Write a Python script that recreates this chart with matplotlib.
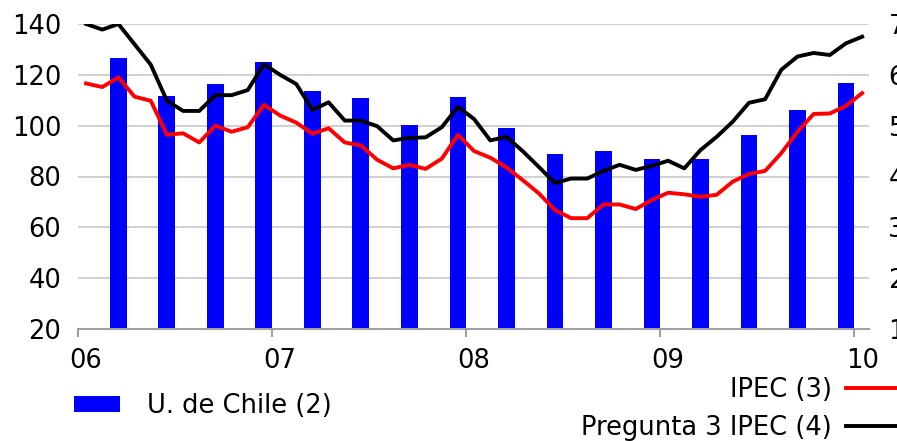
import numpy as np
import matplotlib
matplotlib.use("Agg")
import matplotlib.pyplot as plt

# Indice U. de Chile (eje izq.), trimestral
u_chile = [126.6, 111.7, 116.4, 125.0, 113.6, 110.9, 100.2, 111.3,
           99.1, 88.8, 90.0, 86.9, 86.9, 96.3, 106.1, 116.8]

# IPEC y Pregunta 3 IPEC (eje der.), mensual ene-06 .. ene-10
ipec = [58.3, 57.6, 59.5, 55.7, 54.9, 48.2, 48.5, 46.7, 50.0, 48.8, 49.7, 54.1,
        52.0, 50.6, 48.4, 49.5, 46.7, 46.1, 43.3, 41.6, 42.3, 41.5, 43.5, 48.2,
        45.0, 43.7, 41.8, 39.3, 36.7, 33.4, 31.8, 31.8, 34.5, 34.5, 33.6, 35.4,
        36.8, 36.5, 36.0, 36.4, 39.0, 40.5, 41.1, 44.6, 48.8, 52.3, 52.4, 53.9,
        56.4]
preg3 = [70.0, 68.9, 70.0, 66.0, 62.0, 54.9, 52.9, 52.9, 56.0, 56.0, 57.0, 62.1,
         60.0, 58.2, 53.1, 54.6, 51.0, 51.0, 49.9, 47.1, 47.6, 47.7, 49.7, 53.7,
         51.3, 47.1, 47.8, 45.0, 41.9, 38.7, 39.6, 39.6, 41.1, 42.3, 41.3, 42.1,
         43.1, 41.6, 45.2, 47.8, 50.8, 54.5, 55.2, 61.0, 63.6, 64.3, 63.9, 66.2,
         67.5]

years = ["06", "07", "08", "09", "10"]

x_month = (np.arange(len(ipec)) + 0.5) / 12
x_quarter = (np.arange(len(u_chile)) * 3 + 2.5) / 12

fig = plt.figure(figsize=(8.97, 4.41), dpi=100)
ax = fig.add_axes([78 / 897, 1 - 329 / 441, 791 / 897, 305 / 441])
ax2 = ax.twinx()

bars = ax.bar(x_quarter, u_chile, width=0.087, color="#0000ff", zorder=2)
ax.set_ylim(20, 140)
ax.set_yticks(range(20, 141, 20))
ax.set_xlim(0, 4.077)
ax.grid(axis="y", color="#c8c8c8", lw=1.2)
ax.set_axisbelow(True)

l1, = ax2.plot(x_month, ipec, color="#ff0000", lw=2.8)
l2, = ax2.plot(x_month, preg3, color="black", lw=2.8)
ax2.set_ylim(10, 70)
ax2.set_yticks(range(10, 71, 10))

for a in (ax, ax2):
    for s in ["top", "left", "right", "bottom"]:
        a.spines[s].set_visible(False)
ax.spines["bottom"].set_visible(True)
ax.spines["bottom"].set_color("#a0a0a0")
ax.spines["bottom"].set_linewidth(1.5)

ax.tick_params(axis="y", length=0, labelsize=18.5, pad=12)
ax2.tick_params(axis="y", length=0, labelsize=18.5, pad=14)

# ticks en el inicio de cada año, etiquetas centradas en enero
ax.set_xticks(range(5))
ax.set_xticklabels([])
ax.set_xticks(np.arange(5) + 0.5 / 12, minor=True)
ax.set_xticklabels(years, minor=True)
ax.tick_params(axis="x", which="major", length=6, width=1.5, color="#a0a0a0")
ax.tick_params(axis="x", which="minor", length=0, labelsize=18.5, pad=14)

fig.legend([bars], ["U. de Chile (2)"], loc="center left",
           bbox_to_anchor=(74 / 897, 1 - 406 / 441), frameon=False,
           fontsize=18.5, borderpad=0, borderaxespad=0,
           handlelength=1.8, handleheight=0.6, handletextpad=1.05)
fig.legend([l1, l2], ["IPEC (3)", "Pregunta 3 IPEC (4)"], loc="center right",
           bbox_to_anchor=(903 / 897, 1 - 409 / 441), frameon=False,
           fontsize=18.5, borderpad=0, borderaxespad=0, markerfirst=False,
           handlelength=2.2, handletextpad=0.58, labelspacing=0.48)

fig.savefig("out.png", dpi=100)
